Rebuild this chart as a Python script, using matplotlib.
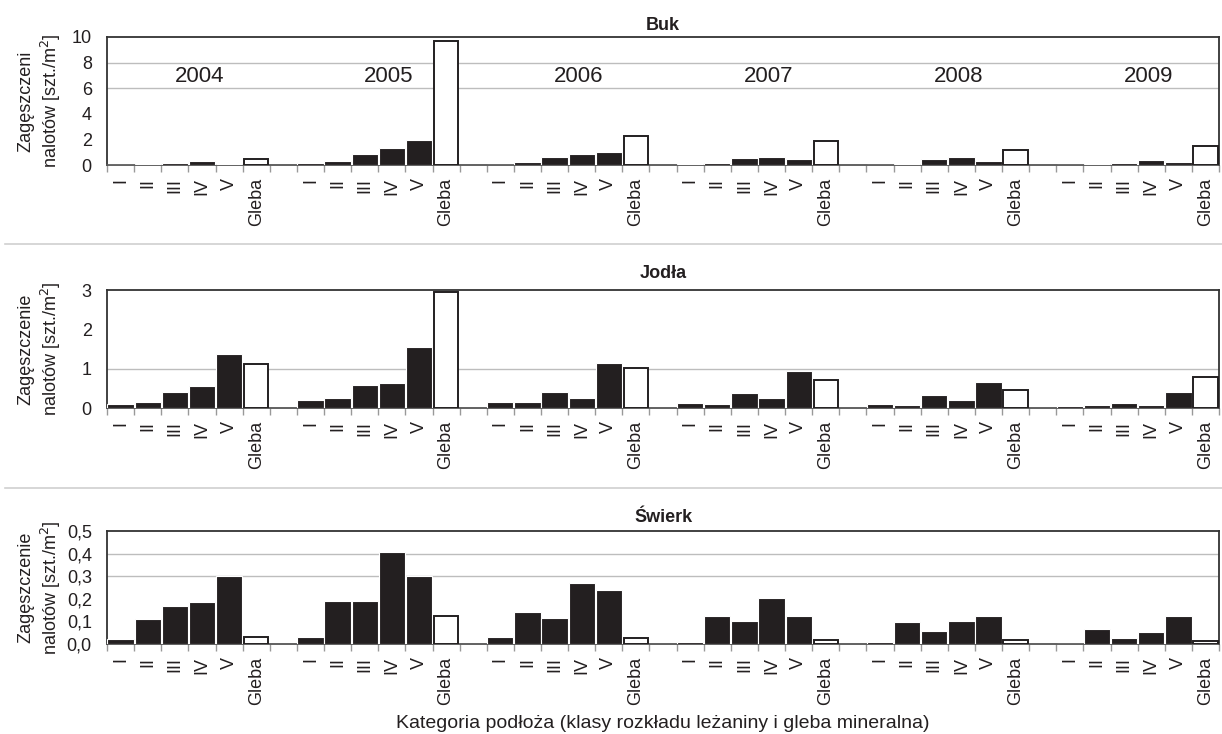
import matplotlib
matplotlib.use("Agg")
import matplotlib.pyplot as plt
import numpy as np
from matplotlib.ticker import FuncFormatter

plt.rcParams['font.family'] = ['Liberation Sans', 'DejaVu Sans']

years = ["2004", "2005", "2006", "2007", "2008", "2009"]
classes = ["I", "II", "III", "IV", "V", "Gleba"]

# densities per year: I, II, III, IV, V, Gleba
buk = [
    [0.02, 0.08, 0.15, 0.30, 0.10, 0.50],
    [0.12, 0.30, 0.88, 1.30, 1.93, 9.66],
    [0.03, 0.20, 0.65, 0.89, 1.04, 2.25],
    [0.05, 0.13, 0.52, 0.65, 0.44, 1.90],
    [0.02, 0.08, 0.47, 0.65, 0.31, 1.15],
    [0.02, 0.08, 0.18, 0.39, 0.26, 1.46],
]
jodla = [
    [0.11, 0.15, 0.41, 0.55, 1.38, 1.11],
    [0.20, 0.25, 0.58, 0.64, 1.55, 2.96],
    [0.16, 0.15, 0.42, 0.26, 1.14, 1.03],
    [0.13, 0.10, 0.37, 0.26, 0.95, 0.71],
    [0.09, 0.08, 0.32, 0.21, 0.66, 0.47],
    [0.05, 0.07, 0.12, 0.08, 0.42, 0.78],
]
swierk = [
    [0.022, 0.112, 0.167, 0.186, 0.300, 0.030],
    [0.031, 0.190, 0.190, 0.405, 0.300, 0.122],
    [0.030, 0.142, 0.115, 0.270, 0.239, 0.028],
    [0.009, 0.124, 0.100, 0.205, 0.122, 0.016],
    [0.009, 0.097, 0.056, 0.103, 0.122, 0.016],
    [0.000, 0.066, 0.025, 0.053, 0.122, 0.015],
]

panels = [
    ("Buk", buk, "Zagęszczeni\nnalotów [szt./m$^2$]", 10, np.arange(0, 11, 2), [6, 8], 0),
    ("Jodła", jodla, "Zagęszczenie\nnalotów [szt./m$^2$]", 3, [0, 1, 2, 3], [1], 0),
    ("Świerk", swierk, "Zagęszczenie\nnalotów [szt./m$^2$]", 0.5, np.arange(0, 0.51, 0.1), [0.3, 0.4], 1),
]
# axes rectangles in figure fraction (left, bottom, width, height)
rects = [
    (0.0876, 0.7752, 0.910, 0.1744),
    (0.0876, 0.4441, 0.910, 0.1608),
    (0.0876, 0.1226, 0.910, 0.1540),
]
title_y = [1 - 25 / 734, 1 - 273 / 734, 1 - 517 / 734]

fig = plt.figure(figsize=(12.22, 7.34), dpi=100)

n_slots = len(years) * 7 - 1
for (name, data, ylab, ymax, yticks, grid_vals, decimals), rect, ty in zip(panels, rects, title_y):
    ax = fig.add_axes(rect)
    labels = [""] * n_slots
    for g, vals in enumerate(data):
        base = g * 7
        xs = base + np.arange(6)
        ax.bar(xs[:5], vals[:5], width=0.97, color="#231f20",
               edgecolor="white", linewidth=0.8, zorder=3)
        ax.bar(xs[5], vals[5], width=0.9, color="white",
               edgecolor="#231f20", linewidth=1.4, zorder=3)
        for k, c in enumerate(classes):
            labels[base + k] = c
        if name == "Buk":
            ax.text(base + 2.9, 0.69, years[g], transform=ax.get_xaxis_transform(),
                    ha="center", va="center", fontsize=16, color="#231f20")
    for gv in grid_vals:
        ax.axhline(gv, color="#bdbdbd", linewidth=1, zorder=1)
    ax.set_xlim(-0.5, n_slots - 0.5)
    ax.set_ylim(0, ymax)
    ax.set_yticks(yticks)
    ax.yaxis.set_major_formatter(FuncFormatter(
        lambda v, p, d=decimals: (f"{v:.{d}f}").replace(".", ",")))
    ax.set_xticks(np.arange(n_slots))
    ax.set_xticklabels(labels, rotation=90, fontsize=13, va="top")
    ax.set_xticks(np.arange(-0.5, n_slots), minor=True)
    ax.tick_params(axis="x", which="major", length=0, pad=9, colors="#231f20")
    ax.tick_params(axis="x", which="minor", length=5, color="#999999", width=1)
    ax.tick_params(axis="y", length=0, pad=11, labelsize=13, colors="#231f20")
    for s in ax.spines.values():
        s.set_color("#333333")
        s.set_linewidth(1.3)
    ax.spines["bottom"].set_color("#555555")
    ax.set_ylabel(ylab, fontsize=13, color="#231f20", linespacing=1.25)
    ax.yaxis.set_label_coords(-0.040, 0.5)
    fig.text(rect[0] + rect[2] / 2, ty, name, ha="center", va="center",
             fontsize=13, fontweight="bold", color="#231f20")

# separator lines between panels
for yy in [1 - 244 / 734, 1 - 488 / 734]:
    fig.add_artist(plt.Line2D([0.004, 1.0], [yy, yy], transform=fig.transFigure,
                              color="#d0d0d0", linewidth=1.2))

fig.text(0.5425, 1 - 723 / 734, "Kategoria podłoża (klasy rozkładu leżaniny i gleba mineralna)",
         ha="center", va="center", fontsize=14, color="#231f20")

fig.savefig("out.png", dpi=100)
